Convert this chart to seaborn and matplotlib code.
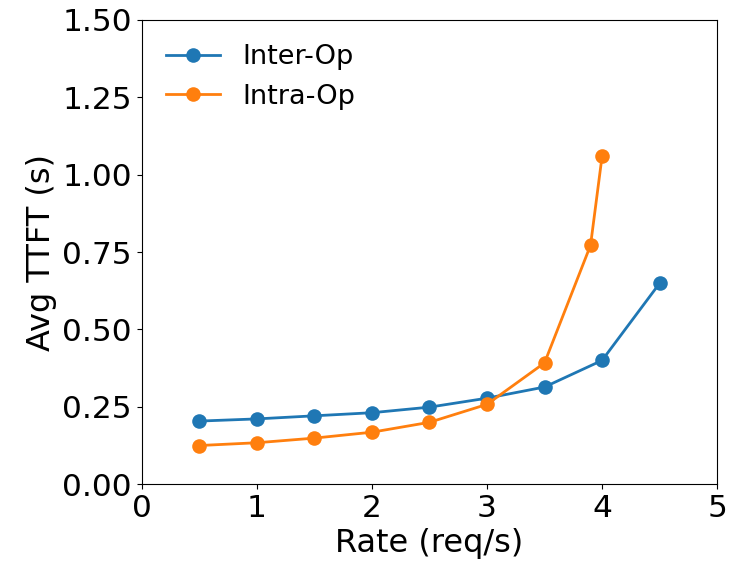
import matplotlib
matplotlib.use("Agg")
import matplotlib.pyplot as plt
import seaborn as sns
import pandas as pd

inter_rates = [0.5, 1.0, 1.5, 2.0, 2.5, 3.0, 3.5, 4.0, 4.5]
inter_ttft = [0.204, 0.211, 0.221, 0.231, 0.249, 0.278, 0.314, 0.400, 0.649]
intra_rates = [0.5, 1.0, 1.5, 2.0, 2.5, 3.0, 3.5, 3.9, 4.0]
intra_ttft = [0.125, 0.134, 0.149, 0.168, 0.200, 0.258, 0.392, 0.772, 1.059]
series_names = ["Inter-Op", "Intra-Op"]

df = pd.concat([
    pd.DataFrame({"rate": inter_rates, "ttft": inter_ttft, "method": series_names[0]}),
    pd.DataFrame({"rate": intra_rates, "ttft": intra_ttft, "method": series_names[1]}),
])

fig = plt.figure(figsize=(7.31, 5.69), dpi=100)
ax = fig.add_axes([0.194, 0.149, 0.787, 0.816])
sns.lineplot(data=df, x="rate", y="ttft", hue="method", hue_order=series_names,
             palette=["#1f77b4", "#ff7f0e"], marker="o", markersize=10.5,
             markeredgewidth=0, linewidth=2, ax=ax, sort=False)
ax.set_xlim(0, 5)
ax.set_ylim(0, 1.5)
ax.set_xticks([0, 1, 2, 3, 4, 5])
ax.set_yticks([0, 0.25, 0.5, 0.75, 1.0, 1.25, 1.5])
ax.set_yticklabels(["0.00", "0.25", "0.50", "0.75", "1.00", "1.25", "1.50"])
ax.tick_params(labelsize=22.5)
ax.set_xlabel("Rate (req/s)", fontsize=23)
ax.set_ylabel("Avg TTFT (s)", fontsize=23)
ax.legend(frameon=False, fontsize=19.5, loc="upper left", title=None)
fig.savefig("out.png", dpi=100)
